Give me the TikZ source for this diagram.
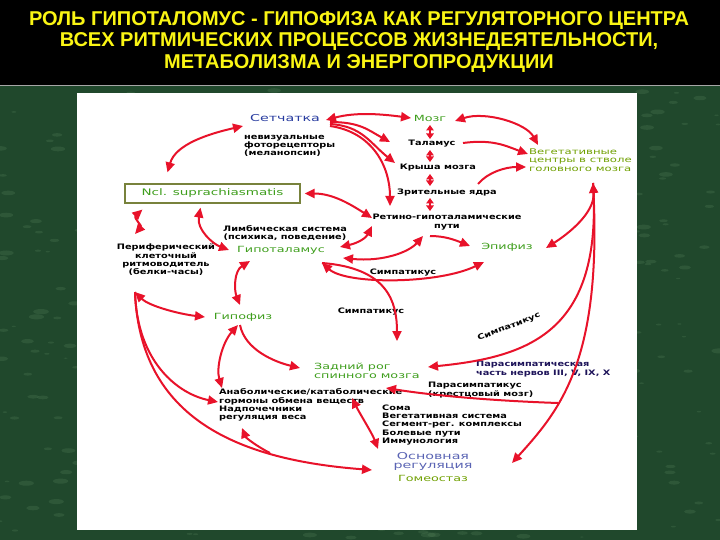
\documentclass[tikz,border=0pt]{standalone}
\usepackage{fontspec}
\newfontfamily\titlefont{Liberation Sans}
\newfontfamily\diagfont{DejaVu Sans}[FakeStretch=1.3]
\newfontfamily\colfont{DejaVu Sans}[FakeStretch=1.5]
\usetikzlibrary{arrows.meta}
\definecolor{ared}{RGB}{232,18,42}
\definecolor{lgreen}{RGB}{62,158,28}
\definecolor{ygreen}{RGB}{112,160,0}
\definecolor{rblue}{RGB}{40,60,160}
\definecolor{sblue}{RGB}{90,100,180}
\definecolor{pnavy}{RGB}{30,20,90}
\definecolor{tyellow}{RGB}{250,245,20}
\definecolor{marble}{RGB}{32,72,44}
\definecolor{marblelight}{RGB}{90,135,95}
\definecolor{nclframe}{RGB}{120,130,60}

\begin{document}
\begin{tikzpicture}[x=1pt, y=-1pt,
    >={Triangle[length=10pt,width=9pt]},
    conn/.style={draw=ared, line width=2pt},
    shortconn/.style={conn, >={Triangle[length=5.5pt,width=7.5pt]}},
    lbl/.style={font=\diagfont\bfseries\fontsize{7.5}{8.3}\selectfont, inner sep=0pt, align=center},
    grn/.style={lbl, font=\colfont\fontsize{8.5}{8.5}\selectfont, text=lgreen},
    olv/.style={grn, text=ygreen},
    blu/.style={grn, font=\colfont\fontsize{9.5}{9}\selectfont, text=rblue},
    slb/.style={blu, text=sblue},
    nav/.style={lbl, text=pnavy},
    nclbox/.style={grn, font=\colfont\fontsize{9}{9}\selectfont, draw=nclframe, line width=1.2pt,
        fill=white, minimum width=175pt, minimum height=19pt}]
    \useasboundingbox (0,0) rectangle (720,540);

    % background
    \fill[black] (0,0) rectangle (720,86);
    \fill[marble] (0,86) rectangle (720,540);
    \pgfmathsetseed{7}
    \foreach \k in {1,...,500}{
        \pgfmathsetmacro\px{rnd*720}
        \pgfmathsetmacro\py{90+rnd*448}
        \pgfmathsetmacro\pr{0.6+rnd*2}
        \fill[marblelight, opacity=0.25] (\px,\py) ellipse ({3*\pr pt} and {\pr pt});
    }
    \draw[gray!70, line width=1pt] (0,86) -- (720,86);
    \fill[white] (77,93) rectangle (637,530);

    % title
    \node[font=\titlefont\bfseries\fontsize{20}{21.5}\selectfont, text=tyellow, align=center]
        (title) at (359,42) {РОЛЬ ГИПОТАЛОМУС - ГИПОФИЗА КАК РЕГУЛЯТОРНОГО ЦЕНТРА\\
        ВСЕХ РИТМИЧЕСКИХ ПРОЦЕССОВ ЖИЗНЕДЕЯТЕЛЬНОСТИ,\\МЕТАБОЛИЗМА И ЭНЕРГОПРОДУКЦИИ};

    % upper part
    \node[blu] (ret) at (285,118) {Сетчатка};
    \node[lbl, align=left, anchor=west] (foto) at (244,146) {невизуальные\\фоторецепторы\\(меланопсин)};
    \node[grn] (mozg) at (430,118) {Мозг};
    \node[lbl] (tal) at (432,144) {Таламус};
    \node[lbl] (krysha) at (438,168) {Крыша мозга};
    \node[lbl] (zrit) at (447,192) {Зрительные ядра};
    \node[lbl] (rgp) at (447,222) {Ретино-гипоталамические\\пути};
    \node[olv, font=\colfont\fontsize{7.8}{8.3}\selectfont, align=left, anchor=west] (veg) at (529,160) {Вегетативные\\центры в стволе\\головного мозга};
    \node[nclbox] (ncl) at (212.5,193.5) {Ncl. suprachiasmatis};

    % middle part
    \node[lbl] (limb) at (285,233) {Лимбическая система\\(психика, поведение)};
    \node[grn] (gipt) at (281,250) {Гипоталамус};
    \node[lbl] (perif) at (166,260) {Периферический\\клеточный\\ритмоводитель\\(белки-часы)};
    \node[grn] (gipf) at (243,317) {Гипофиз};
    \node[grn] (epif) at (507,247) {Эпифиз};
    \node[lbl] (simpa) at (403,273) {Симпатикус};
    \node[lbl] (simpb) at (371,312) {Симпатикус};
    \node[lbl, rotate=21] (simpc) at (509,327) {Симпатикус};

    % lower part
    \node[grn, align=left, anchor=west] (zadn) at (314,371) {Задний рог\\спинного мозга};
    \node[nav, align=left, anchor=west] (parn) at (476,369) {Парасимпатическая\\часть нервов III, V, IX, X};
    \node[lbl, align=left, anchor=west] (parkr) at (428,390) {Парасимпатикус\\(крестцовый мозг)};
    \node[lbl, align=left, anchor=west] (anab) at (219,405) {Анаболические/катаболические\\гормоны обмена веществ\\Надпочечники\\регуляция веса};
    \node[lbl, align=left, anchor=west] (soma) at (382,425) {Сома\\Вегетативная система\\Сегмент-рег. комплексы\\Болевые пути\\Иммунология};
    \node[slb] (osn) at (433,461) {Основная\\регуляция};
    \node[olv] (gom) at (433,478) {Гомеостаз};

    % arrows from the retina
    \draw[conn, <->] ([shift={(-45,-11)}]ncl.north) .. controls +(8,-28) and +(-35,8) .. ([shift={(-42,8)}]ret.center);
    \draw[conn, <->] ([shift={(41,2)}]ret.center) .. controls +(30,-8) and +(-30,-4) .. ([shift={(-19,0)}]mozg.center);
    \draw[conn, ->] ([shift={(45,4)}]ret.center) .. controls +(30,0) and +(-22,-12) .. ([shift={(-42,-2)}]tal.center);
    \draw[conn, ->] ([shift={(45,6)}]ret.center) .. controls +(32,2) and +(-25,-20) .. ([shift={(-43,-5)}]krysha.center);
    \draw[conn, ->] ([shift={(45,8)}]ret.center) .. controls +(42,6) and +(0,-40) .. ([shift={(-57,-16)}]rgp.center);

    % column of brain parts
    \draw[shortconn, <->] ([shift={(0,7)}]mozg.center) -- ([shift={(-2,-5)}]tal.center);
    \draw[shortconn, <->] ([shift={(-2,6)}]tal.center) -- ([shift={(-8,-6)}]krysha.center);
    \draw[shortconn, <->] ([shift={(-8,6)}]krysha.center) -- ([shift={(-17,-6)}]zrit.center);
    \draw[shortconn, <->] ([shift={(-17,6)}]zrit.center) -- ([shift={(-17,-11)}]rgp.center);

    % to the brain stem centres
    \draw[conn, <->] ([shift={(25,3)}]mozg.center) .. controls +(30,-10) and +(-12,-22) .. ([shift={(9,-15)}]veg.west);
    \draw[conn, ->] ([shift={(31,-1)}]tal.center) .. controls +(30,-4) and +(-22,-8) .. ([shift={(-1,-6)}]veg.west);
    \draw[conn, ->] ([shift={(31,-8)}]zrit.center) .. controls +(10,-12) and +(-20,0) .. ([shift={(-3,7)}]veg.west);

    % nucleus and hypothalamus
    \draw[conn, <->] ([shift={(4,0)}]ncl.east) .. controls +(28,0) and +(-22,-14) .. ([shift={(-75,-4)}]rgp.center);
    \draw[conn, <->] ([shift={(59,-3)}]gipt.center) .. controls +(18,-4) and +(-6,12) .. ([shift={(-75,4)}]rgp.center);
    \draw[conn, <->] ([shift={(62,8)}]gipt.center) .. controls +(40,4) and +(-14,16) .. ([shift={(-24,14)}]rgp.center);
    \draw[conn, ->] ([shift={(-17,14)}]rgp.center) .. controls +(15,0) and +(-15,-6) .. ([shift={(-37,-1)}]epif.center);
    \draw[conn, <->] ([shift={(41,13)}]gipt.center) .. controls +(25,22) and +(-45,22) .. ([shift={(-23,15)}]epif.center);
    \draw[conn, ->] ([shift={(41,13)}]gipt.center) .. controls +(65,5) and +(0,-40) .. ([shift={(83,-30)}]zadn.west);
    \draw[conn, <->] ([shift={(-31,11)}]gipt.center) .. controls +(-16,10) and +(-6,-15) .. ([shift={(-3,-12)}]gipf.center);
    \draw[conn, <->] ([shift={(18,6)}]ncl.south west) .. controls +(-9,8) and +(7,-8) .. ([shift={(-31,-26)}]perif.center);
    \draw[conn, <->] ([shift={(-12,4)}]ncl.south) .. controls +(-4,22) and +(-16,-6) .. ([shift={(-52,0)}]gipt.center);

    % peripheral clock
    \draw[conn, <->] ([shift={(-31,32)}]perif.center) .. controls +(14,14) and +(-26,-3) .. ([shift={(-38,0)}]gipf.center);
    \draw[conn, ->] ([shift={(-31,32)}]perif.center) .. controls +(2,70) and +(-40,-8) .. ([shift={(-1,-3)}]anab.west);
    \draw[conn, ->] ([shift={(-31,32)}]perif.center) .. controls +(5,128) and +(-132,-10) .. ([shift={(-61,9)}]osn.center);
    \coordinate (br) at (270,453);
    \draw[conn, ->] (br) .. controls +(-12,-6) and +(4,10) .. ([shift={(23,23)}]anab.west);

    % pituitary
    \draw[conn, <->] ([shift={(-5,8)}]gipf.center) .. controls +(-16,18) and +(-6,-20) .. ([shift={(3,-17)}]anab.west);
    \draw[conn, ->] ([shift={(-3,8)}]gipf.center) .. controls +(5,25) and +(-25,-6) .. ([shift={(-14,-3)}]zadn.west);
    \draw[conn, <->] ([shift={(133,-7)}]anab.west) .. controls +(8,16) and +(-6,-16) .. ([shift={(-55,-12)}]osn.center);

    % from the brain stem centres down
    \draw[conn, <->] ([shift={(64,23)}]veg.west) .. controls +(2,30) and +(22,-14) .. ([shift={(39,1)}]epif.center);
    \draw[conn, ->] ([shift={(64,23)}]veg.west) .. controls +(10,150) and +(100,-10) .. ([shift={(114,-4)}]zadn.west);
    \coordinate (vtip) at (512,463);
    \draw[conn, ->] ([shift={(64,23)}]veg.west) .. controls +(10,177) and +(48,-53) .. (vtip);
    \coordinate (pk) at (558,403);
    \draw[conn, ->] (pk) .. controls +(-60,-2) and +(50,8) .. ([shift={(72,17)}]zadn.west);
\end{tikzpicture}
\end{document}
